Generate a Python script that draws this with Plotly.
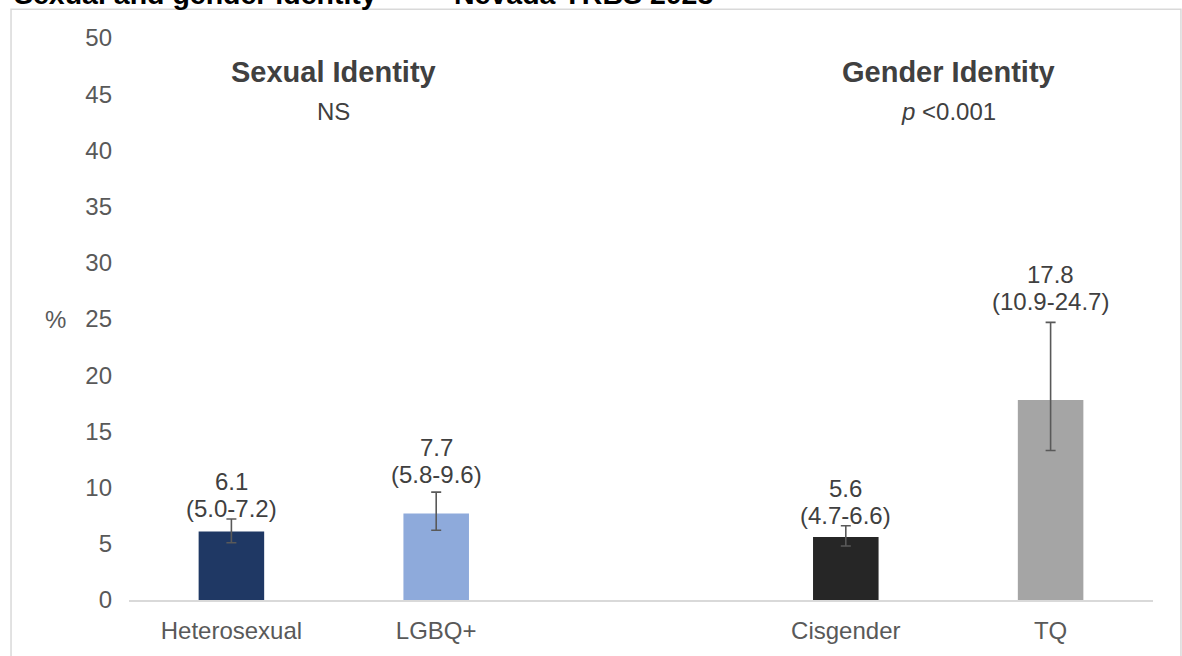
import plotly.graph_objects as go

# ---- data ----
categories = ["Heterosexual", "LGBQ+", "Cisgender", "TQ"]
values = [6.1, 7.7, 5.6, 17.8]
ci_labels = ["(5.0-7.2)", "(5.8-9.6)", "(4.7-6.6)", "(10.9-24.7)"]
err_plus = [1.1, 1.9, 1.0, 6.9]
err_minus = [1.0, 1.5, 0.8, 4.5]
group_titles = ["Sexual Identity", "Gender Identity"]
group_stats = ["NS", "<i>p</i> &lt;0.001"]
y_ticks = [0, 5, 10, 15, 20, 25, 30, 35, 40, 45, 50]

# ---- layout / style ----
x_pos = [0, 1, 3, 4]
group_x = [0.5, 3.5]
bar_colors = ["#1F3864", "#8EAADB", "#262626", "#A5A5A5"]
label_gap_px = [11, 18, 10, 21]
FONT = "Liberation Sans, Arial, sans-serif"
TXT = "#404040"
AX = "#595959"

fig = go.Figure()
fig.add_trace(go.Bar(
    x=x_pos, y=values, width=0.32,
    marker=dict(color=bar_colors, line=dict(width=0)),
    error_y=dict(type="data", symmetric=False, array=err_plus, arrayminus=err_minus,
                 color="#595959", thickness=1.6, width=5),
    hoverinfo="skip",
))

annotations = []
for xp, v, ep, ci, g in zip(x_pos, values, err_plus, ci_labels, label_gap_px):
    top = v + ep
    annotations.append(dict(x=xp, y=top, xref="x", yref="y", text=ci, showarrow=False,
                            yanchor="middle", yshift=g, font=dict(size=24, color=TXT, family=FONT)))
    annotations.append(dict(x=xp, y=top, xref="x", yref="y", text=f"{v:.1f}", showarrow=False,
                            yanchor="middle", yshift=g + 27, font=dict(size=24, color=TXT, family=FONT)))

for gx, t, s in zip(group_x, group_titles, group_stats):
    annotations.append(dict(x=gx, y=47.0, xref="x", yref="y", text=f"<b>{t}</b>", showarrow=False,
                            yanchor="middle", font=dict(size=29, color=TXT, family=FONT)))
    annotations.append(dict(x=gx, y=43.45, xref="x", yref="y", text=s, showarrow=False,
                            yanchor="middle", font=dict(size=24, color=TXT, family=FONT)))

# "%" axis label
annotations.append(dict(x=-0.072, y=25, xref="paper", yref="y", text="%", showarrow=False,
                        xanchor="center", yanchor="middle", font=dict(size=24, color=AX, family=FONT)))

# slide title (cut off at the top edge, as in the reference)
annotations.append(dict(x=-0.1143, y=1.0779, xref="paper", yref="paper", xanchor="left", yanchor="middle",
                        text="<b>Sexual and gender identity</b>", showarrow=False,
                        font=dict(size=28.5, color="#000000", family=FONT)))
annotations.append(dict(x=0.3154, y=1.0779, xref="paper", yref="paper", xanchor="left", yanchor="middle",
                        text="<b>Nevada YRBS 2023</b>", showarrow=False,
                        font=dict(size=28.5, color="#000000", family=FONT)))

fig.update_layout(
    width=1182, height=656,
    margin=dict(l=129, r=29, t=38, b=53),
    paper_bgcolor="white", plot_bgcolor="white",
    showlegend=False,
    annotations=annotations,
    shapes=[dict(type="rect", xref="paper", yref="paper", x0=-0.1152, x1=1.0273, y0=-0.3, y1=1.0513,
                 line=dict(color="#D9D9D9", width=1.5), fillcolor="rgba(0,0,0,0)", layer="below")],
    xaxis=dict(range=[-0.5, 4.5], tickmode="array", tickvals=x_pos, ticktext=categories,
               showline=True, linecolor="#D9D9D9", linewidth=1.5, showgrid=False, zeroline=False,
               ticks="", ticklabelstandoff=8, tickfont=dict(size=24, color=AX, family=FONT)),
    yaxis=dict(range=[0, 50], tickmode="array", tickvals=y_ticks, showline=False, showgrid=False,
               zeroline=False, ticks="", ticklabelstandoff=16,
               tickfont=dict(size=24, color=AX, family=FONT)),
)

fig.write_html("out.html", config={"displayModeBar": False},
               post_script="document.body.style.margin='0';document.body.style.overflow='hidden';")
